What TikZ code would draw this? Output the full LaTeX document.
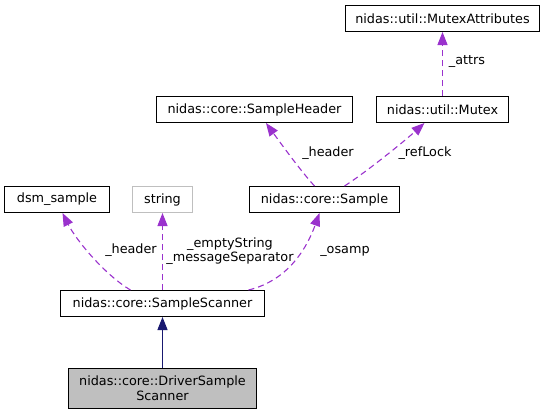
\documentclass[tikz,border=0pt]{standalone}
\usepackage{fontspec}
\setmainfont{DejaVu Sans}
\usetikzlibrary{arrows.meta,calc}
\definecolor{usecol}{HTML}{9A32CD}
\definecolor{inhcol}{HTML}{191970}
\definecolor{greyfill}{HTML}{BFBFBF}
\tikzset{
  cls/.style={draw=black, line width=1pt, fill=white, inner sep=0pt, align=center,
    minimum height=26pt, font=\fontsize{12.8}{15}\selectfont},
  usage/.style={color=usecol, line width=1.1pt, dash pattern=on 6pt off 4pt,
    -{Triangle[length=13pt,width=10pt,fill=usecol]}},
  inherit/.style={color=inhcol, line width=1.1pt, -{Triangle[length=13pt,width=10pt,fill=inhcol]}},
  lbl/.style={font=\fontsize{12.8}{14.5}\selectfont, inner sep=0pt, align=center}
}
\begin{document}
\begin{tikzpicture}[x=1pt,y=-1pt]
\useasboundingbox (0,0) rectangle (544,416);
% nodes
\node[cls, minimum width=194pt] (ma) at (442.5,18.5) {nidas::util::MutexAttributes};
\node[cls, minimum width=196pt] (sh) at (254.5,109.5) {nidas::core::SampleHeader};
\node[cls, minimum width=132pt] (mx) at (442.5,109.5) {nidas::util::Mutex};
\node[cls, minimum width=105pt] (dsm) at (57,199.5) {dsm\_sample};
\node[cls, draw=greyfill, minimum width=60pt] (str) at (162.5,199.5) {string};
\node[cls, minimum width=150pt] (smp) at (324.5,199.5) {nidas::core::Sample};
\node[cls, minimum width=204pt] (ss) at (162.5,303.5) {nidas::core::SampleScanner};
\node[cls, fill=greyfill, minimum width=188pt, minimum height=40pt] (dss) at (162.5,388.5) {nidas::core::DriverSample\\Scanner};
% connectors
\draw[inherit] (dss.north) -- (ss.south);
\draw[usage] (ss.north) -- (str.south);
\draw[usage] (mx.north) -- (ma.south);
\draw[usage] ($(ss.north west)+(70.5,0)$) .. controls (105,275) and (76,240) .. ($(dsm.south west)+(58.5,0)$);
\draw[usage] ($(ss.north west)+(188.5,0)$) .. controls (290,280) and (308,245) .. ($(smp.south west)+(70.5,0)$);
\draw[usage] ($(smp.north west)+(65.5,0)$) .. controls (300,170) and (282,145) .. ($(sh.south west)+(110,0)$);
\draw[usage] ($(smp.north west)+(95.5,0)$) .. controls (362,175) and (400,145) .. ($(mx.south west)+(48.5,0)$);
% labels
\node[lbl] (l1) at (467,62) {\_attrs};
\node[lbl] (l2) at (328,153) {\_header};
\node[lbl] (l3) at (425,153) {\_refLock};
\node[lbl] (l4) at (131,250) {\_header};
\node[lbl] (l5) at (230,251) {\_emptyString\\\_messageSeparator};
\node[lbl] (l6) at (345,251) {\_osamp};
\end{tikzpicture}
\end{document}
